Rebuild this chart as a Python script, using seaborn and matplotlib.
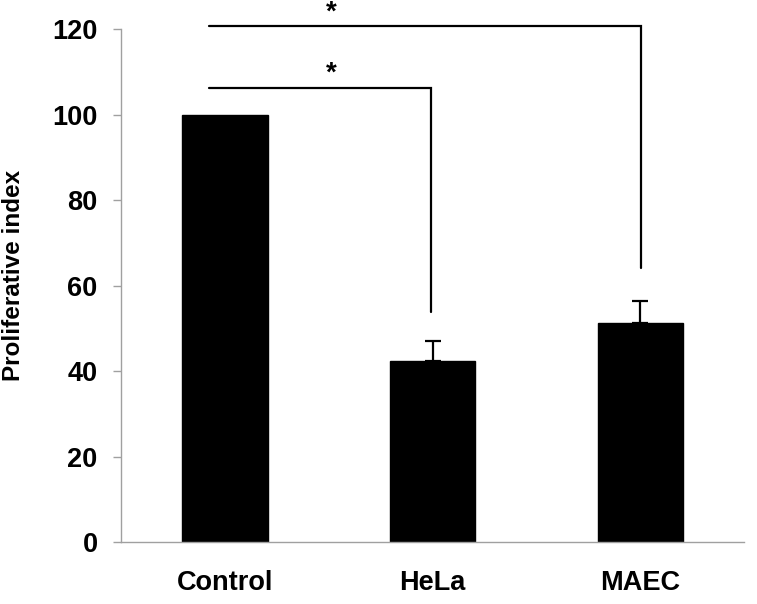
import matplotlib
matplotlib.use("Agg")
import matplotlib.pyplot as plt
import seaborn as sns
import numpy as np
import pandas as pd

categories = ["Control", "HeLa", "MAEC"]
values = [100.0, 42.3, 51.3]
errors = [0.0, 4.7, 5.1]
yticks = [0, 20, 40, 60, 80, 100, 120]
ylabel = "Proliferative index"

# significance brackets: (x_start, x_end, y_top, y_drop_end)
bracket_low = (-0.078, 0.992, 106.3, 53.9)
bracket_high = (-0.078, 2.002, 120.8, 64.1)
star_x = 0.51
star_y_low = 109.5
star_y_high = 124.0

sns.set_theme(style="white")
plt.rcParams["font.family"] = ["Liberation Sans", "DejaVu Sans"]
plt.rcParams["font.weight"] = "bold"
plt.rcParams["text.color"] = "black"
plt.rcParams["xtick.color"] = "black"
plt.rcParams["ytick.color"] = "black"
plt.rcParams["axes.labelcolor"] = "black"

fig = plt.figure(figsize=(7.57, 6.04), dpi=100)
ax = fig.add_axes([0.160, 0.1026, 0.823, 0.849])

df = pd.DataFrame({"cat": categories, "val": values})
sns.barplot(data=df, x="cat", y="val", color="black", width=0.41,
            edgecolor="black", saturation=1, ax=ax, errorbar=None)
for p in ax.patches:
    p.set_facecolor("black")

xpos = np.arange(len(categories))
err = np.array(errors)
mask = err > 0
ax.errorbar(xpos[mask], np.array(values)[mask],
            yerr=[np.zeros(mask.sum()), err[mask]], fmt="none",
            ecolor="black", elinewidth=1.6, capsize=5.8, capthick=1.6, zorder=3)

ax.set_xlim(-0.5, 2.5)
ax.set_ylim(0, 120)
ax.set_yticks(yticks)
ax.set_yticklabels([str(t) for t in yticks], fontsize=19.5, fontweight="bold", color="black")
ax.set_xticks(range(len(categories)))
ax.set_xticklabels(categories, fontsize=19.5, fontweight="bold", color="black")
ax.set_xticks([-0.5, 0.5, 1.5, 2.5], minor=True)
ax.tick_params(axis="x", which="major", length=0, pad=20, labelcolor="black")
ax.tick_params(axis="x", which="minor", length=6, width=1, color="#a0a0a0", direction="out")
ax.tick_params(axis="y", which="major", length=6, width=1, color="#a0a0a0", direction="out",
               pad=11, left=True, labelcolor="black")
ax.set_xlabel("")
ax.set_ylabel(ylabel, fontsize=17.5, fontweight="bold", color="black")
ax.yaxis.set_label_coords(-0.155, 0.52)

for s in ["top", "right"]:
    ax.spines[s].set_visible(False)
for s in ["left", "bottom"]:
    ax.spines[s].set_color("#a0a0a0")
    ax.spines[s].set_linewidth(1)

for (x0, x1, yt, yb) in [bracket_low, bracket_high]:
    ax.plot([x0, x1, x1], [yt, yt, yb], color="black", lw=1.6,
            clip_on=False, solid_joinstyle="miter")

for sy in [star_y_low, star_y_high]:
    ax.text(star_x, sy, "*", ha="center", va="center", fontsize=20,
            fontweight="bold", color="black", clip_on=False)

fig.savefig("out.png", dpi=100, facecolor="white")
